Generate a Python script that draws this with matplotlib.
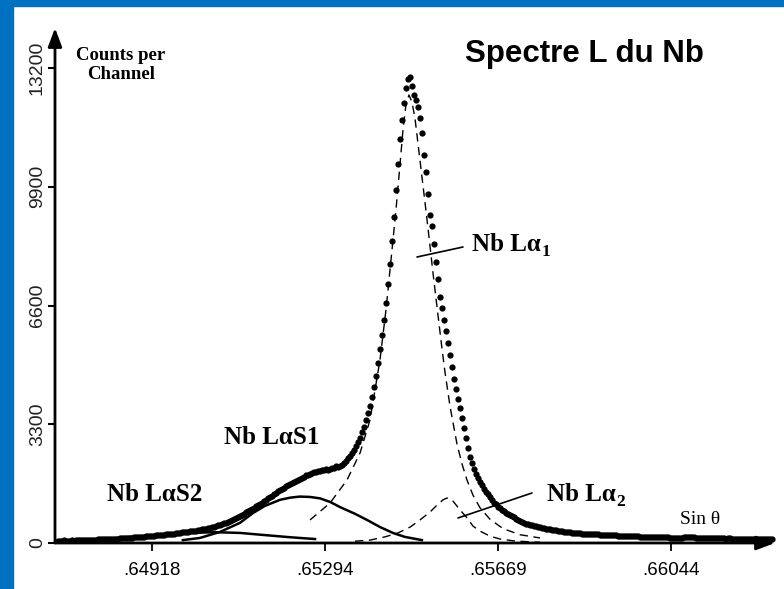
import numpy as np
import matplotlib.pyplot as plt
from matplotlib.patches import Rectangle

# measured spectrum: counts per channel, channels evenly spaced in sin(theta)
sin_start, sin_stop = 0.64714, 0.66264
counts = [
    60, 58, 62, 70, 64, 62, 65, 72, 68, 70, 75, 76, 78, 80, 85, 83, 86, 90, 88, 94,
    98, 100, 102, 106, 104, 110, 112, 115, 118, 120, 125, 128, 130, 134, 138, 142, 145, 150, 155, 160,
    165, 170, 174, 180, 185, 190, 195, 200, 205, 210, 215, 220, 226, 232, 238, 244, 250, 257, 264, 271,
    278, 285, 292, 299, 306, 313, 320, 328, 337, 346, 355, 365, 376, 388, 400, 412, 425, 440, 455, 472,
    488, 505, 525, 545, 566, 588, 610, 636, 662, 690, 720, 750, 782, 815, 850, 885, 920, 952, 985, 1018,
    1050, 1085, 1124, 1163, 1202, 1241, 1280, 1318, 1356, 1394, 1432, 1470, 1504, 1538, 1572, 1606, 1640, 1668, 1696, 1724,
    1752, 1780, 1820, 1836, 1880, 1892, 1930, 1936, 1960, 1968, 2010, 2000, 2030, 2024, 2050, 2040, 2060, 2090, 2092, 2130,
    2124, 2140, 2180, 2230, 2280, 2350, 2420, 2508, 2596, 2696, 2808, 2920, 3076, 3232, 3410, 3610, 3810, 4070, 4347, 4640,
    5000, 5383, 5790, 6210, 6680, 7200, 7767, 8390, 9070, 9810, 10530, 11230, 11763, 12237, 12650, 12900, 12960, 12700, 12450, 12300,
    12120, 11800, 11400, 10790, 10300, 9700, 9120, 8800, 8300, 7800, 7350, 6850, 6530, 6200, 5900, 5560, 5230, 4900, 4560, 4270,
    4000, 3750, 3470, 3200, 2920, 2650, 2400, 2220, 2060, 1920, 1800, 1700, 1600, 1510, 1430, 1350, 1280, 1200, 1120, 1070,
    1010, 960, 920, 880, 845, 815, 780, 745, 715, 680, 645, 610, 575, 555, 540, 525, 505, 490, 478, 466,
    455, 440, 425, 412, 398, 388, 378, 368, 358, 348, 340, 332, 324, 316, 308, 300, 293, 286, 280, 276,
    272, 268, 264, 259, 255, 251, 248, 246, 243, 240, 238, 235, 232, 229, 226, 223, 220, 217, 214, 210,
    207, 204, 200, 197, 194, 192, 189, 187, 185, 183, 181, 180, 177, 174, 172, 171, 170, 168, 166, 164,
    162, 160, 159, 158, 156, 154, 152, 150, 151, 150, 148, 149, 152, 156, 162, 168, 172, 166, 156, 148,
    142, 140, 139, 136, 135, 138, 134, 132, 131, 130, 128, 129, 130, 126, 125, 128, 130, 125, 122, 120,
    124, 122, 118, 119, 121, 122, 118, 115, 118, 116, 114, 112, 114, 115, 111, 110, 112, 110,
]
sin_theta = np.linspace(sin_start, sin_stop, len(counts))

# fitted components
la1_x = [0.652611, 0.653045, 0.653414, 0.653697, 0.653914, 0.654131, 0.654261, 0.654370, 0.654478,
         0.654565, 0.654630, 0.654695, 0.654760, 0.654826, 0.654891, 0.654956, 0.655021, 0.655086,
         0.655151, 0.655217, 0.655282, 0.655347, 0.655412, 0.655477, 0.655542, 0.655651, 0.655803,
         0.655911, 0.656020, 0.656150, 0.656302, 0.656519, 0.656802, 0.657171, 0.657605]
la1_y = [640, 1110, 1750, 2500, 3420, 5090, 6480, 7870, 9260,
         10510, 11480, 12180, 12450, 12250, 11800, 11100, 10400, 9700,
         9000, 8250, 7500, 6800, 6100, 5400, 4750, 3800, 2750,
         2200, 1750, 1330, 980, 660, 400, 230, 140]

la2_x = [0.653588, 0.653914, 0.654239, 0.654522, 0.654782, 0.654999, 0.655217, 0.655390, 0.655499,
         0.655586, 0.655694, 0.655868, 0.656020, 0.656150, 0.656302, 0.656519, 0.656737, 0.657062, 0.657605]
la2_y = [50, 80, 170, 280, 440, 640, 860, 1080, 1200,
         1250, 1200, 920, 700, 470, 330, 190, 110, 55, 20]

las1_x = [0.64985, 0.65022, 0.65066, 0.65109, 0.65137, 0.65163, 0.65196, 0.65218, 0.65239, 0.65261,
          0.65283, 0.65305, 0.65326, 0.65359, 0.65385, 0.65413, 0.65441, 0.65467, 0.65504]
las1_y = [80, 140, 310, 560, 830, 1030, 1200, 1260, 1290, 1280,
          1240, 1140, 1000, 810, 640, 445, 280, 170, 80]

las2_x = [0.64805, 0.64870, 0.64935, 0.65001, 0.65055, 0.65109, 0.65163, 0.65218, 0.65272]
las2_y = [100, 170, 220, 280, 300, 280, 220, 160, 110]

x_ticks = [0.64918, 0.65294, 0.65669, 0.66044]
x_tick_labels = ['.64918', '.65294', '.65669', '.66044']
y_ticks = [0, 3300, 6600, 9900, 13200]

W, H = 784, 589


def px(x, y):
    return x / W, 1 - y / H


fig = plt.figure(figsize=(W / 100, H / 100), dpi=100)
fig.patches.append(Rectangle((0, 0), 13 / W, 1, transform=fig.transFigure, color='#0070c0', zorder=0))
fig.patches.append(Rectangle((0, 1 - 6 / H), 1, 6 / H, transform=fig.transFigure, color='#0070c0', zorder=0))

ax = fig.add_axes([55 / W, 46 / H, 720 / W, 515 / H])
ax.set_xlim(0.647074, 0.662708)
ax.set_ylim(0, 14312)
ax.patch.set_alpha(0)
for s in ax.spines.values():
    s.set_visible(False)

ax.plot(las2_x, las2_y, color='black', lw=1.8)
ax.plot(las1_x, las1_y, color='black', lw=1.8)
ax.plot(la1_x, la1_y, color='black', lw=1.0, dashes=(6, 4))
ax.plot(la2_x, la2_y, color='black', lw=1.0, dashes=(6, 4))
ax.plot(sin_theta, counts, 'o', color='black', ms=4.5, mec='none')

arrow = dict(arrowstyle='-|>,head_length=0.8,head_width=0.3', lw=2, color='black',
             shrinkA=0, shrinkB=0, mutation_scale=14)
ax.annotate('', xy=(1, 0), xytext=(0, 0), xycoords='axes fraction', arrowprops=arrow)
ax.annotate('', xy=(0, 1), xytext=(0, 0), xycoords='axes fraction', arrowprops=arrow)

ax.set_xticks(x_ticks)
ax.set_xticklabels(x_tick_labels, fontsize=13.5, family='Liberation Sans')
ax.set_yticks(y_ticks)
ax.set_yticklabels([str(v) for v in y_ticks], fontsize=14, family='Liberation Sans',
                   rotation=90, va='center', color='#222222')
ax.tick_params(axis='x', direction='out', length=6, width=1.3, pad=8)
ax.tick_params(axis='y', direction='out', length=5, width=1.5, pad=1.5)

# texts
serif = dict(family='Liberation Serif', weight='bold', color='black')
fig.text(*px(465, 62), 'Spectre L du Nb', family='Liberation Sans', weight='bold',
         fontsize=22.5, va='baseline')
fig.text(*px(121, 79), 'Counts per\nChannel', ha='center', va='baseline',
         fontsize=13.5, linespacing=1.15, **serif)
fig.text(*px(224, 444), 'Nb L\u03b1S1', fontsize=18, va='baseline', **serif)
fig.text(*px(107, 501), 'Nb L\u03b1S2', fontsize=18, va='baseline', **serif)
t1 = fig.text(*px(472, 251), 'Nb L\u03b1', fontsize=18, va='baseline', **serif)
ax.annotate('1', xy=(1, 0), xycoords=t1, xytext=(0.5, -3), textcoords='offset points',
            fontsize=12.5, va='bottom', ha='left', family='Liberation Serif', weight='bold')
t2 = fig.text(*px(547, 501), 'Nb L\u03b1', fontsize=18, va='baseline', **serif)
ax.annotate('2', xy=(1, 0), xycoords=t2, xytext=(0.5, -3), textcoords='offset points',
            fontsize=12.5, va='bottom', ha='left', family='Liberation Serif', weight='bold')
fig.text(*px(680, 524), 'Sin \u03b8', fontsize=14, va='baseline', family='Liberation Serif')

# leader lines to the peak labels
lead = dict(arrowstyle='-', lw=1.2, color='black', shrinkA=0, shrinkB=0)
ax.annotate('', xy=(0.654934, 7948), xytext=(0.655933, 8226), arrowprops=lead)
ax.annotate('', xy=(0.655824, 695), xytext=(0.657431, 1390), arrowprops=lead)

fig.savefig('out.png', dpi=100)
